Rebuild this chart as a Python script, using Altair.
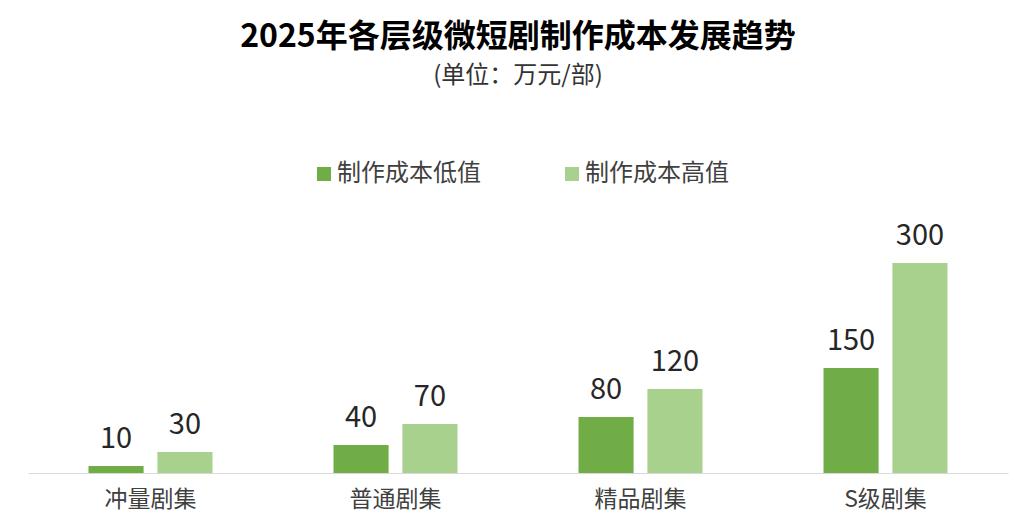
import altair as alt
import pandas as pd

categories = ["冲量剧集", "普通剧集", "精品剧集", "S级剧集"]
series_names = ["制作成本低值", "制作成本高值"]
low_values = [10, 40, 80, 150]
high_values = [30, 70, 120, 300]
colors = ["#70AD47", "#A9D18E"]

rows = []
for c, lo, hi in zip(categories, low_values, high_values):
    rows.append({"category": c, "series": series_names[0], "value": lo})
    rows.append({"category": c, "series": series_names[1], "value": hi})
df = pd.DataFrame(rows)

FONT = "Noto Sans CJK SC"

x_enc = alt.X(
    "category:N",
    sort=categories,
    scale=alt.Scale(paddingInner=0.494, paddingOuter=0.247),
    axis=alt.Axis(
        title=None, labelAngle=0, ticks=False, domainColor="#d9d9d9", domainWidth=1.2,
        labelFont=FONT, labelFontSize=23, labelColor="#404040", labelPadding=15, grid=False,
    ),
)
xo_enc = alt.XOffset(
    "series:N", sort=series_names, scale=alt.Scale(paddingInner=0.2, paddingOuter=0)
)
y_enc = alt.Y("value:Q", scale=alt.Scale(domain=[0, 350]), axis=None)

bars = alt.Chart(df).mark_bar().encode(
    x=x_enc,
    xOffset=xo_enc,
    y=y_enc,
    color=alt.Color(
        "series:N",
        sort=series_names,
        scale=alt.Scale(domain=series_names, range=colors),
        legend=alt.Legend(
            title=None, orient="none", direction="horizontal",
            legendX=284, legendY=-66,
            symbolType="square", symbolSize=196, symbolStrokeWidth=0,
            labelFont=FONT, labelFontSize=24, labelColor="#404040",
            labelOffset=1, columnPadding=79, labelLimit=300,
        ),
    ),
)

labels = alt.Chart(df).mark_text(
    font=FONT, fontSize=29, color="#262626", baseline="alphabetic", dy=-18
).encode(
    x=alt.X("category:N", sort=categories),
    xOffset=alt.XOffset("series:N", sort=series_names),
    y=alt.Y("value:Q"),
    text=alt.Text("value:Q"),
)

chart = (
    alt.layer(bars, labels)
    .properties(
        width=980,
        height=245,
        autosize=alt.AutoSizeParams(type="none"),
        padding={"left": 20, "top": 220, "right": 8, "bottom": 43},
        title=alt.TitleParams(
            text="2025年各层级微短剧制作成本发展趋势",
            subtitle="(单位：万元/部)",
            anchor="middle",
            frame="group",
            font=FONT,
            fontSize=32,
            fontWeight="bold",
            color="#000000",
            subtitleFont=FONT,
            subtitleFontSize=24,
            subtitleColor="#333333",
            subtitlePadding=10,
            offset=73,
        ),
    )
    .configure(background="white")
    .configure_view(strokeWidth=0, stroke="transparent")
)

chart.save("out.html", embed_options={"renderer": "svg", "actions": False})
